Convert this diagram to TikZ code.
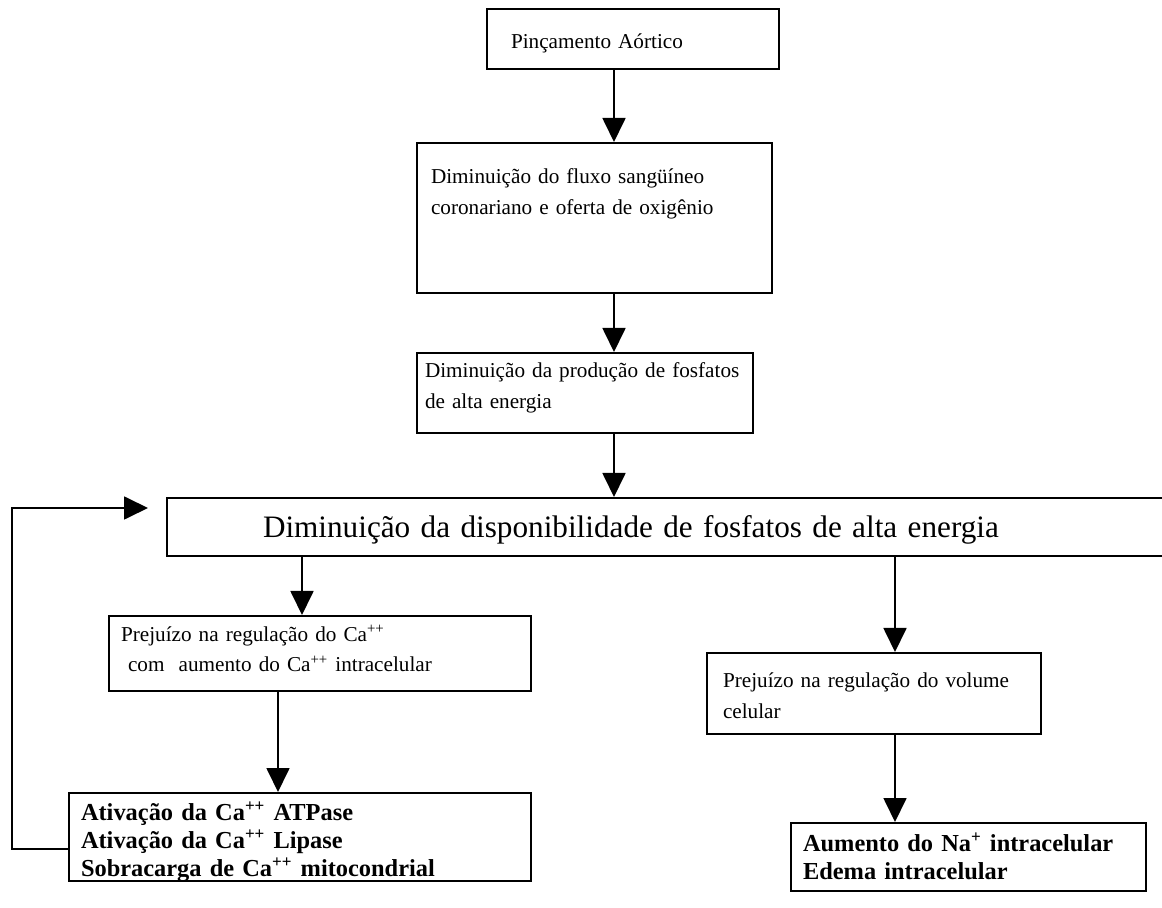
\documentclass[tikz,border=0pt]{standalone}
\usepackage{fontspec}
\setmainfont{Liberation Serif}
\usetikzlibrary{arrows.meta}

\tikzset{
  caixa/.style={draw, line width=1pt, anchor=north west, align=left, inner ysep=0pt},
  negrito/.style={font=\fontsize{12.2}{14}\selectfont\bfseries},
  seta/.style={draw, line width=0.9pt, -{Triangle[length=12pt,width=11.5pt]}}
}

\begin{document}
\begin{tikzpicture}[x=0.5pt, y=-0.5pt, font=\fontsize{10.6}{15.5}\selectfont]
  \useasboundingbox (0,0) rectangle (1162,908);
  \begin{scope}[every node/.style={caixa}]
    \node (pinc) [inner xsep=12pt, text width=122pt, text height=20pt, text depth=10pt] at (486,8)
      {Pinçamento Aórtico};
    \node (fluxo) [inner xsep=7pt, text width=163.5pt, text height=20.5pt, text depth=54.5pt] at (416,142)
      {Diminuição do fluxo sangüíneo\\coronariano e oferta de oxigênio};
    \node (prod) [inner xsep=4pt, text width=160pt, text height=12.5pt, text depth=27.5pt] at (416,352)
      {\mbox{Diminuição da produção de fosfatos}\\de alta energia};
    \node (disp) [inner xsep=48pt, text width=416pt, text height=20pt, text depth=9pt,
      font=\fontsize{15.6}{18}\selectfont] at (166,497)
      {Diminuição da disponibilidade de fosfatos de alta energia};
    \node (preca) [inner xsep=6pt, text width=199pt, text height=12.5pt, text depth=25pt] at (108,615)
      {Prejuízo na regulação do Ca\textsuperscript{++}\\\ com~ aumento do Ca\textsuperscript{++} intracelular};
    \node (prevol) [inner xsep=8pt, text width=151pt, text height=17.5pt, text depth=23pt] at (706,652)
      {Prejuízo na regulação do volume\\celular};
    \node (ativ) [negrito, inner xsep=6pt, text width=219pt, text height=13.5pt, text depth=30.5pt] at (68,792)
      {Ativação da Ca\textsuperscript{++} ATPase\\Ativação da Ca\textsuperscript{++} Lipase\\Sobracarga de Ca\textsuperscript{++} mitocondrial};
    \node (aum) [negrito, inner xsep=6pt, text width=165.5pt, text height=14pt, text depth=20pt] at (790,822)
      {Aumento do Na\textsuperscript{+} intracelular\\Edema intracelular};
  \end{scope}
  \coordinate (eixo) at (614,0);
  \coordinate (eixoE) at (302,0);
  \coordinate (eixoE2) at (278,0);
  \coordinate (eixoD) at (895,0);
  \coordinate (volta) at (12,508);
  \begin{scope}[every edge/.style={seta}]
    \path (pinc.south -| eixo) edge (fluxo.north -| eixo);
    \path (fluxo.south -| eixo) edge (prod.north -| eixo);
    \path (prod.south -| eixo) edge (disp.north -| eixo);
    \path (disp.south -| eixoE) edge (preca.north -| eixoE);
    \path (preca.south -| eixoE2) edge (ativ.north -| eixoE2);
    \path (disp.south -| eixoD) edge (prevol.north -| eixoD);
    \path (prevol.south -| eixoD) edge (aum.north -| eixoD);
  \end{scope}
  \draw[seta, shorten >=9pt] ([yshift=-6pt]ativ.west) -| (volta) -- (disp.west |- volta);
\end{tikzpicture}
\end{document}
